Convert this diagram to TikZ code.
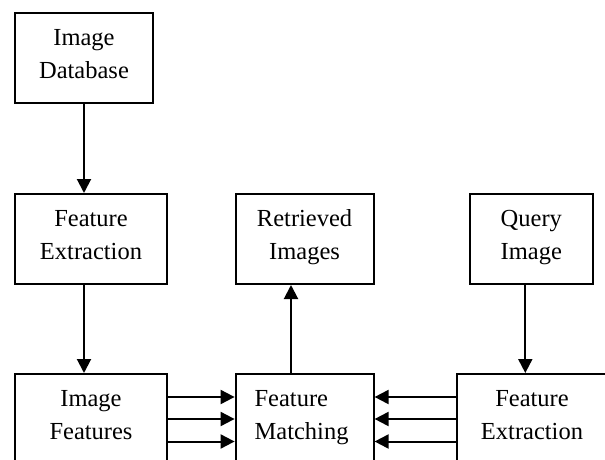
\documentclass[tikz,border=0pt]{standalone}
\usepackage{fontspec}
\setmainfont{Liberation Serif}
\usetikzlibrary{arrows.meta}
\begin{document}
\begin{tikzpicture}[x=1pt,y=-1pt,
  box/.style={draw,line width=2pt,minimum height=90pt,inner sep=0pt,
    text width=#1,align=center,text height=17pt,text depth=41.6pt,
    font=\fontsize{24.5}{33}\selectfont},
  box/.default=130pt,
  arr/.style={line width=2pt,-{Triangle[length=14pt,width=14pt]}}]
\useasboundingbox (0,0) rectangle (605,460);
\clip (0,0) rectangle (605,460);
\node[box,minimum width=138pt] (db) at (84,58) {Image\\Database};
\node[box,minimum width=152pt] (fe) at (91,239) {Feature\\Extraction};
\node[box,minimum width=138pt] (ret) at (304.6,239) {Retrieved\\Images};
\node[box=110pt,minimum width=122.6pt] (qi) at (531.3,239) {Query\\Image};
\node[box,minimum width=152pt] (if) at (91,419) {Image\\Features};
\node[box=100pt,align=left,minimum width=138pt] (fm) at (304.6,419) {Feature\\Matching};
\node[box,minimum width=150pt] (fe2) at (532,419) {Feature\\Extraction};
\draw[arr] (db.south) -- (db.south |- fe.north);
\draw[arr] (db.south |- fe.south) -- (db.south |- if.north);
\draw[arr] ([xshift=-13.6pt]fm.north) -- ([xshift=-13.6pt]ret.south);
\draw[arr] ([xshift=-6pt]qi.south) -- ([xshift=-6pt]qi.south |- fe2.north);
\foreach \d in {-22,0,22.5}{
  \draw[arr] ([yshift=-\d pt]if.east) -- ([yshift=-\d pt]if.east -| fm.west);
  \draw[arr] ([yshift=-\d pt]fe2.west) -- ([yshift=-\d pt]fe2.west -| fm.east);
}
\end{tikzpicture}
\end{document}
